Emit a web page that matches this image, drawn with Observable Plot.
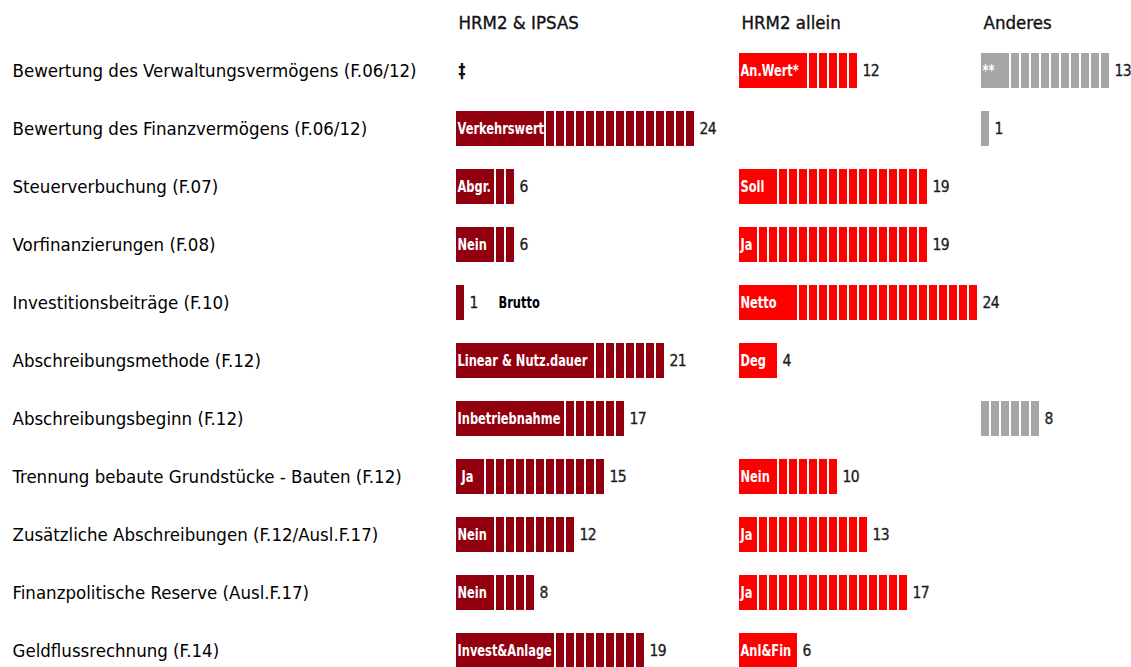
<!DOCTYPE html>
<html>
<head>
<meta charset="utf-8">
<script src="https://cdn.jsdelivr.net/npm/d3@7"></script>
<script src="https://cdn.jsdelivr.net/npm/@observablehq/plot@0.6"></script>
<style>
  html, body { margin: 0; padding: 0; background: #fff; overflow: hidden; }
  #chart svg { display: block; }
</style>
</head>
<body>
<div id="chart"></div>
<script>
// ---- data ----
const rows = [
  "Bewertung des Verwaltungsvermögens (F.06/12)",
  "Bewertung des Finanzvermögens (F.06/12)",
  "Steuerverbuchung (F.07)",
  "Vorfinanzierungen (F.08)",
  "Investitionsbeiträge (F.10)",
  "Abschreibungsmethode (F.12)",
  "Abschreibungsbeginn (F.12)",
  "Trennung bebaute Grundstücke - Bauten (F.12)",
  "Zusätzliche Abschreibungen (F.12/Ausl.F.17)",
  "Finanzpolitische Reserve (Ausl.F.17)",
  "Geldflussrechnung (F.14)"
];
const columns = ["HRM2 & IPSAS", "HRM2 allein", "Anderes"];

// HRM2 & IPSAS
const ipsasCounts = [null, 24, 6, 6, 1, 21, 17, 15, 12, 8, 19];
const ipsasLabels = ["‡", "Verkehrswert", "Abgr.", "Nein", "Brutto", "Linear & Nutz.dauer", "Inbetriebnahme", "\u00a0Ja", "Nein", "Nein", "Invest&Anlage"];
const ipsasLabelUnits = [0, 9, 4, 4, 0, 14, 11, 3, 4, 4, 10];

// HRM2 allein
const hrm2Counts = [12, null, 19, 19, 24, 4, null, 10, 13, 17, 6];
const hrm2Labels = ["An.Wert*", null, "Soll", "Ja", "Netto", "Deg", null, "Nein", "Ja", "Ja", "Anl&Fin"];
const hrm2LabelUnits = [7, 0, 4, 2, 6, 4, 0, 4, 2, 2, 6];

// Anderes (printed count and drawn units as shown in the picture)
const otherCounts = [13, 1, null, null, null, null, 8, null, null, null, null];
const otherUnits  = [13, 1, null, null, null, null, 6, null, null, null, null];
const otherLabels = ["**", null, null, null, null, null, null, null, null, null, null];
const otherLabelUnits = [3, 0, 0, 0, 0, 0, 0, 0, 0, 0, 0];

const colors = ["#920010", "#ff0000", "#a6a6a6"];

// ---- layout ----
const colStart = [0, 28.3, 52.5]; // in unit steps
const cells = [
  {counts: ipsasCounts, units: ipsasCounts, labels: ipsasLabels, span: ipsasLabelUnits},
  {counts: hrm2Counts, units: hrm2Counts, labels: hrm2Labels, span: hrm2LabelUnits},
  {counts: otherCounts, units: otherUnits, labels: otherLabels, span: otherLabelUnits}
];

const segs = [], inLabels = [], valueLabels = [], outLabels = [], notes = [];
cells.forEach((c, ci) => {
  const s0 = colStart[ci];
  rows.forEach((row, ri) => {
    const n = c.units[ri];
    const lab = c.labels[ri];
    const sp = c.span[ri];
    if (n == null || n === 0) {
      if (lab) notes.push({row, x: s0, text: lab});
      return;
    }
    let i = 0;
    if (sp > 0) { segs.push({row, col: columns[ci], x1: s0, x2: s0 + sp}); i = sp; }
    for (; i < n; i++) segs.push({row, col: columns[ci], x1: s0 + i, x2: s0 + i + 1});
    if (lab && sp > 0) inLabels.push({row, x: s0, text: lab});
    valueLabels.push({row, x: s0 + n, text: String(c.counts[ri])});
    if (lab && sp === 0) outLabels.push({row, x: s0 + n, text: lab});
  });
});

const font = "'Liberation Sans Narrow', 'Arial Narrow', 'DejaVu Sans Condensed', sans-serif";

const chart = Plot.plot({
  width: 1131,
  height: 667,
  marginLeft: 456,
  marginRight: 0,
  marginTop: 0,
  marginBottom: 0,
  style: {fontFamily: font, background: "#fff", overflow: "hidden"},
  x: {domain: [0, 67.5], axis: null},
  y: {type: "band", domain: rows, range: [48.3, 672.9], paddingInner: 0.3884, paddingOuter: 0},
  color: {domain: columns, range: colors},
  marks: [
    Plot.axisY({anchor: "left", tickSize: 0, tickPadding: 0, textAnchor: "start", dx: -444,
      fontSize: 18.5, fill: "#000", stroke: "#000", strokeWidth: 0.35, label: null}),
    Plot.text(columns, {x: (d, i) => colStart[i], text: d => d, frameAnchor: "top",
      lineAnchor: "middle", textAnchor: "start", dx: 2, dy: 23, fontSize: 18.5,
      fill: "#111", stroke: "#111", strokeWidth: 0.35}),
    Plot.rect(segs, {x1: "x1", x2: "x2", y: "row", fill: "col", insetRight: 2}),
    Plot.text(inLabels, {x: "x", y: "row", text: "text", textAnchor: "start", dx: 1,
      fill: "white", fontWeight: "bold", fontSize: 16.5}),
    Plot.text(valueLabels, {x: "x", y: "row", text: "text", textAnchor: "start", dx: 3,
      fill: "#1a1a1a", stroke: "#1a1a1a", strokeWidth: 0.3, fontSize: 15.5}),
    Plot.text(outLabels, {x: "x", y: "row", text: "text", textAnchor: "start", dx: 32,
      fill: "#000", fontWeight: "bold", fontSize: 16.5}),
    Plot.text(notes, {x: "x", y: "row", text: "text", textAnchor: "start", dx: 2,
      fill: "#111", fontWeight: "bold", fontSize: 20})
  ]
});
// condense the bold bar labels horizontally
chart.querySelectorAll('g[font-weight="bold"] text').forEach(t => {
  let tr = t.getAttribute("transform");
  if (!tr) {
    const x = +t.getAttribute("x") || 0, y = +t.getAttribute("y") || 0;
    t.removeAttribute("x"); t.removeAttribute("y");
    tr = `translate(${x},${y})`;
  }
  t.setAttribute("transform", tr + " scale(0.77,1)");
});
// slightly tighter count labels
chart.querySelectorAll('g[font-size="15.5"]').forEach(g => g.setAttribute("letter-spacing", "-0.6"));
document.getElementById("chart").appendChild(chart);
</script>
</body>
</html>
